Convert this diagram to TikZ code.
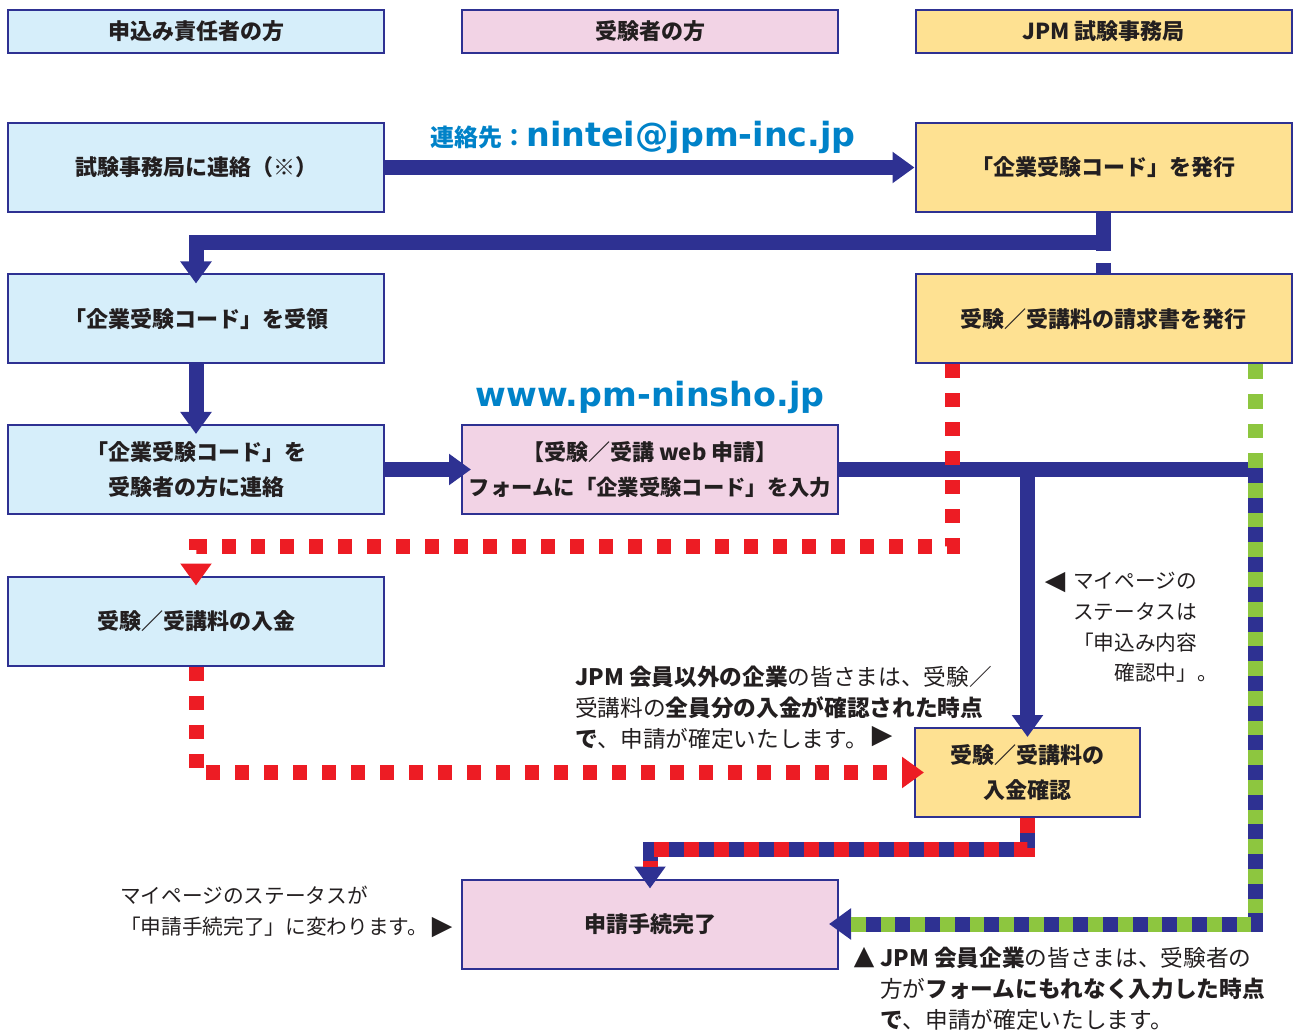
\documentclass[tikz,border=0pt]{standalone}
\usepackage{fontspec}
\usetikzlibrary{arrows.meta,calc}
\newfontfamily\jp{Noto Sans CJK JP}
\newfontfamily\webfont{DejaVu Sans}
\newfontfamily\symb{DejaVu Sans}
\definecolor{ink}{HTML}{231F20}
\definecolor{flownavy}{HTML}{2E3192}
\definecolor{payred}{HTML}{ED1C24}
\definecolor{memgreen}{HTML}{8DC63F}
\definecolor{linkblue}{HTML}{0082C8}
\definecolor{skyfill}{HTML}{D6EEFA}
\definecolor{rosefill}{HTML}{F2D3E5}
\definecolor{sandfill}{HTML}{FEE192}
\tikzset{
  box/.style={draw=flownavy, line width=1.5pt, inner sep=0pt, align=center, text=ink,
    minimum width=282pt, minimum height=66.75pt,
    font=\jp\bfseries\fontsize{16.5}{26}\selectfont},
  head/.style={box, minimum height=32.25pt},
  flowline/.style={draw=flownavy, line width=11.25pt},
  flow/.style={flowline, -{Triangle[length=16.5pt,width=22.5pt]}, shorten >=-7.5pt},
  paid/.style={draw=payred, line width=11.25pt, dash pattern=on 10.5pt off 11.25pt},
  paidarrow/.style={paid, -{Triangle[length=16.5pt,width=22.5pt]}, shorten >=-7.5pt},
  redover/.style={draw=payred, line width=11.25pt, dash pattern=on 11.25pt off 11.25pt},
  greenover/.style={draw=memgreen, line width=11.25pt, dash pattern=on 11pt off 11.25pt},
  web/.style={text=linkblue, inner sep=0pt, font=\webfont\bfseries\fontsize{25}{30}\selectfont},
  note/.style={text=ink, align=left, inner sep=0pt, anchor=north west,
    font=\jp\fontsize{17}{23}\selectfont},
  smallnote/.style={note, font=\jp\fontsize{15.5}{23}\selectfont},
  pointer/.style={text=ink, inner sep=0pt, font=\symb\fontsize{20}{20}\selectfont}
}
\begin{document}
\begin{tikzpicture}[x=0.75pt,y=-0.75pt]
  \useasboundingbox (0,0) rectangle (1293,1030);
  % column headers
  \node[head, fill=skyfill] (hleader) at (196,31.5) {申込み責任者の方};
  \node[head, fill=rosefill] (hexaminee) at (650,31.5) {受験者の方};
  \node[head, fill=sandfill] (hoffice) at (1103.5,31.5) {JPM 試験事務局};
  % steps
  \node[box, fill=skyfill] (contact) at (196,167.5) {試験事務局に連絡（※）};
  \node[box, fill=sandfill] (issue) at (1103.5,167.5) {「企業受験コード」を発行};
  \node[box, fill=skyfill] (receive) at (196,319) {「企業受験コード」を受領};
  \node[box, fill=sandfill] (invoice) at (1103.5,319) {受験／受講料の請求書を発行};
  \node[box, fill=skyfill] (notify) at (196,469.5) {「企業受験コード」を\\受験者の方に連絡};
  \node[box, fill=rosefill] (apply) at (650,469.5)
    {【受験／受講 web 申請】\\{\fontsize{16}{26}\selectfont フォームに「企業受験コード」を入力}};
  \node[box, fill=skyfill] (pay) at (196,621) {受験／受講料の入金};
  \node[box, fill=sandfill, minimum width=168.75pt] (check) at (1027.5,772.5) {受験／受講料の\\入金確認};
  \node[box, fill=rosefill] (done) at (650,924) {申請手続完了};
  % addresses
  \node[web] (mail) at (643,137) {{\jp\bfseries\fontsize{18}{20}\selectfont 連絡先：}nintei@jpm-inc.jp};
  \node[web] (site) at (650,397) {www.pm-ninsho.jp};
  % connectors
  \draw[flow, shorten >=0pt] (contact) -- (issue);
  \draw[flow] (issue.south) -- ++(0,30) -| (receive.north);
  \draw[flowline, dash pattern=on 28.5pt off 9pt] (issue.south) -- (invoice.north);
  \draw[flow] (receive) -- (notify);
  \draw[flow] (notify) -- (apply);
  \coordinate (turn) at ($(apply.east -| invoice.south east)+(-37,0)$);
  \draw[flow] (apply.east) -- (turn) |- (done.east);
  \draw[flow] ([yshift=5pt]apply.east -| check.north) -- (check.north);
  \draw[flow] (check.south) -- ++(0,31) -| (done.north);
  \draw[redover, shorten >=9pt] (check.south) -- ++(0,31) -| (done.north);
  \draw[greenover, shorten >=9pt] ($(invoice.south east)+(-37,0)$) |- (done.east);
  \draw[paidarrow] ($(invoice.south west)+(38,0)$) -- ++(0,182) -| (pay.north);
  \draw[paidarrow] (pay.south) |- (check.west);
  % notes
  \node[pointer] (marka) at (1055,583) {◀};
  \node[smallnote] (statusa) at (1073,572) {マイページの\\ステータスは\\「申込み内容\\\hspace*{2em}確認中」。};
  \node[note] (nonmember) at (575,666) {{\bfseries JPM 会員以外の企業}の皆さまは、受験／\\受講料の{\bfseries 全員分の入金が確認された時点}\\{\bfseries で}、申請が確定いたします。};
  \node[pointer] (markb) at (882,737) {▶};
  \node[smallnote] (statusb) at (120,886) {マイページのステータスが\\「申請手続完了」に変わります。};
  \node[pointer] (markc) at (442,928) {▶};
  \node[pointer] (markd) at (864,958) {▲};
  \node[note] (member) at (880,947) {{\bfseries JPM 会員企業}の皆さまは、受験者の\\方が{\bfseries フォームにもれなく入力した時点}\\{\bfseries で}、申請が確定いたします。};
\end{tikzpicture}
\end{document}
